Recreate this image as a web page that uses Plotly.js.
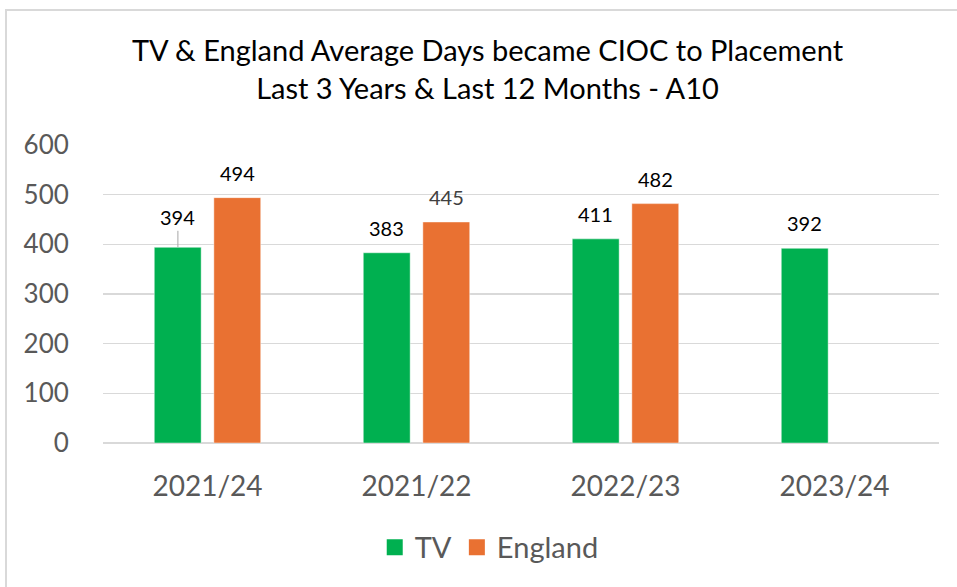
<!DOCTYPE html>
<html>
<head>
<meta charset="utf-8">
<script src="https://cdn.plot.ly/plotly-3.0.1.min.js"></script>
<style>
  html, body { margin: 0; padding: 0; background: #fff; }
  #chart { width: 957px; height: 587px; position: absolute; left: 0; top: 0; }
  #frame { position: absolute; left: 5px; top: 9px; width: 1000px; height: 700px;
           border-left: 2px solid #d9d9d9; border-top: 2px solid #d9d9d9; pointer-events: none; }
</style>
</head>
<body>
<div id="chart"></div>
<div id="frame"></div>
<script>
// ---- data ----
const categories = ["2021/24", "2021/22", "2022/23", "2023/24"];
const tvValues = [394, 383, 411, 392];
const englandValues = [494, 445, 482, null];
const seriesNames = ["TV", "England"];
const yTicks = [0, 100, 200, 300, 400, 500, 600];

// ---- styles ----
const GREEN = "#00b050";
const ORANGE = "#e97132";
const FONT = "Lato, 'Open Sans', sans-serif";
const GREY_TXT = "#595959";

const barCommon = {
  type: "bar",
  x: categories,
  showlegend: false,
  hoverinfo: "skip"
};

const traces = [
  Object.assign({}, barCommon, {
    name: seriesNames[0], y: tvValues,
    marker: { color: GREEN, line: { color: "rgba(255,255,255,0.45)", width: 1 } }
  }),
  Object.assign({}, barCommon, {
    name: seriesNames[1], y: englandValues,
    marker: { color: ORANGE, line: { color: "rgba(255,255,255,0.45)", width: 1 } }
  }),
  // legend entries
  { type: "scatter", mode: "markers", x: [null], y: [null], name: seriesNames[0],
    marker: { symbol: "square", color: GREEN, size: 18 }, showlegend: true },
  { type: "scatter", mode: "markers", x: [null], y: [null], name: seriesNames[1],
    marker: { symbol: "square", color: ORANGE, size: 18 }, showlegend: true }
];

// data labels via annotations (placed by the library's scales)
const annotations = [];
const OFFSET = 29.6; // px from category centre to bar centre
function addLabels(values, sign, colorFn) {
  values.forEach((v, i) => {
    if (v === null || v === undefined) return;
    const withLeader = (sign < 0 && i === 0);
    const a = {
      x: categories[i], y: v, xref: "x", yref: "y",
      text: String(v),
      font: { family: FONT, size: 20, color: colorFn(i) },
      xshift: sign * OFFSET,
      xanchor: "center", yanchor: "middle"
    };
    if (withLeader) {
      Object.assign(a, { showarrow: true, arrowhead: 0, arrowwidth: 1,
        arrowcolor: "#a6a6a6", ax: 0, ay: -30, standoff: 0 });
    } else {
      Object.assign(a, { showarrow: false, yshift: 25 });
    }
    annotations.push(a);
  });
}
addLabels(tvValues, -1, () => "#000000");
addLabels(englandValues, 1, (i) => (i === 1 ? "#404040" : "#000000"));

const layout = {
  width: 957, height: 587,
  paper_bgcolor: "rgba(0,0,0,0)", plot_bgcolor: "#ffffff",
  margin: { l: 103, r: 18, t: 145, b: 143.5 },
  font: { family: FONT, color: GREY_TXT },
  title: {
    text: "TV & England Average Days became CIOC to Placement<br>Last 3 Years & Last 12 Months - A10",
    font: { family: FONT, size: 29, color: "#000000" },
    x: 0.5094, xref: "container", xanchor: "center",
    y: 1 - 61 / 587, yref: "container", yanchor: "top"
  },
  barmode: "group",
  bargap: 0.43,
  bargroupgap: 0.213,
  xaxis: {
    type: "category",
    showgrid: false, zeroline: false,
    showline: false,
    ticks: "outside", ticklen: 18, tickcolor: "rgba(0,0,0,0)",
    tickfont: { family: FONT, size: 28, color: GREY_TXT },
    fixedrange: true
  },
  yaxis: {
    range: [0, 600],
    tickvals: yTicks,
    ticktext: yTicks.map(String),
    showgrid: true, gridcolor: "#d9d9d9", gridwidth: 1.5,
    zeroline: true, zerolinecolor: "#d9d9d9", zerolinewidth: 1.5,
    ticks: "outside", ticklen: 28, tickcolor: "rgba(0,0,0,0)",
    tickfont: { family: FONT, size: 26, color: GREY_TXT },
    fixedrange: true
  },
  legend: {
    orientation: "h",
    x: 0.462, xanchor: "center",
    y: -0.35, yanchor: "middle",
    font: { family: FONT, size: 29, color: GREY_TXT },
    itemwidth: 30
  },
  annotations: annotations,
  showlegend: true
};

Plotly.newPlot("chart", traces, layout, { displayModeBar: false, staticPlot: true });
</script>
</body>
</html>
